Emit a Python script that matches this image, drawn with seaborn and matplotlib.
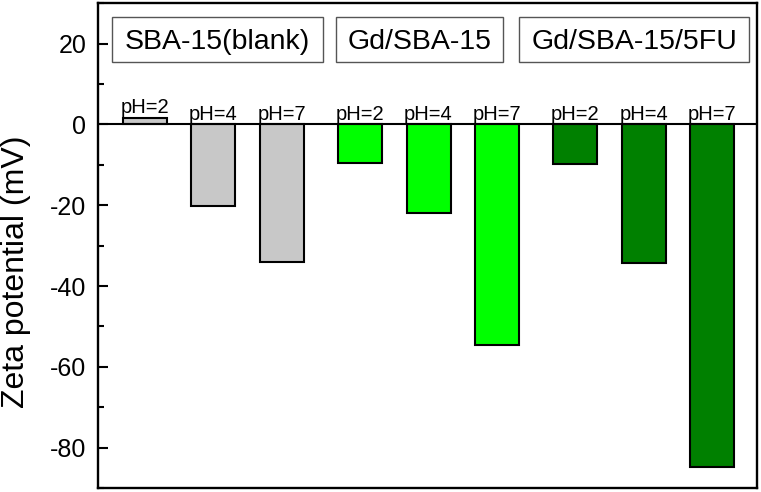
import numpy as np
import pandas as pd
import matplotlib
matplotlib.use('Agg')
import matplotlib.pyplot as plt
from matplotlib.ticker import MultipleLocator
from matplotlib.patches import Rectangle
import seaborn as sns

# data
groups = ['SBA-15(blank)', 'Gd/SBA-15', 'Gd/SBA-15/5FU']
ph_labels = ['pH=2', 'pH=4', 'pH=7']
blank_vals = [1.6, -20.3, -34.0]
gd_vals = [-9.6, -22.0, -54.5]
gd5fu_vals = [-9.8, -34.4, -84.9]
colors = ['#c8c8c8', '#00ff00', '#008000']

group_gap = 1.13
rows = []
for g, (name, vals) in enumerate(zip(groups, [blank_vals, gd_vals, gd5fu_vals])):
    for i, v in enumerate(vals):
        rows.append({'pos': g * (2 + group_gap) + i, 'zeta': v, 'group': name, 'ph': ph_labels[i]})
df = pd.DataFrame(rows)

sns.set_style('ticks')
plt.rcParams['font.family'] = ['Liberation Sans', 'DejaVu Sans']
plt.rcParams['axes.unicode_minus'] = False
for k in ['text.color', 'axes.labelcolor', 'xtick.color', 'ytick.color']:
    plt.rcParams[k] = 'black'

fig = plt.figure(figsize=(7.61, 4.92), dpi=100)
ax = fig.add_axes([0.1288, 0.0081, 0.9947 - 0.1288, 0.9933 - 0.0081])

sns.barplot(data=df, x='pos', y='zeta', hue='group', palette=dict(zip(groups, colors)),
            native_scale=True, width=0.64, edgecolor='black', linewidth=1.5,
            legend=False, ax=ax, errorbar=None, saturation=1)

ax.axhline(0, color='black', lw=1.5, zorder=3)

for _, r in df.iterrows():
    ax.text(r['pos'], max(r['zeta'], 0) + 1.2, r['ph'], ha='center', va='baseline', fontsize=14.5)

# group boxes (x0, x1 in data units)
box_spans = [(-0.48, 2.59), (2.785, 5.22), (5.45, 8.80)]
for name, (x0, x1) in zip(groups, box_spans):
    ax.add_patch(Rectangle((x0, 15.5), x1 - x0, 11.2, fc='white', ec='#555555', lw=1, zorder=4))
    ax.text((x0 + x1) / 2, 18.6, name, ha='center', va='baseline', fontsize=20.5, zorder=5)

ax.set_xlim(-0.68, 8.91)
ax.set_ylim(-90, 30)
ax.set_yticks([20, 0, -20, -40, -60, -80])
ax.yaxis.set_minor_locator(MultipleLocator(10))
ax.tick_params(axis='y', which='major', direction='in', length=7, width=1.5, labelsize=18, pad=8.5)
ax.tick_params(axis='y', which='minor', direction='in', length=4, width=1.5)
ax.tick_params(axis='x', which='both', bottom=False, labelbottom=False)
ax.set_xlabel('')
ax.set_ylabel('Zeta potential (mV)', fontsize=23)
ax.yaxis.set_label_coords(-0.101, 0.446)
for s in ax.spines.values():
    s.set_linewidth(1.7)
    s.set_color('black')

plt.savefig('out.png', dpi=100)
